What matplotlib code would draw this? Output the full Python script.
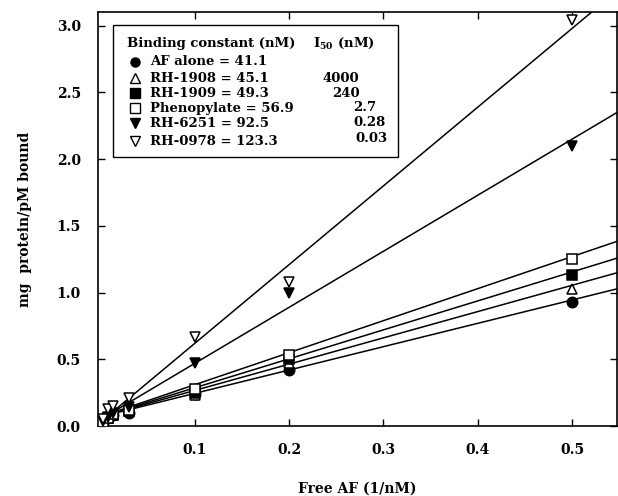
import matplotlib
matplotlib.use("Agg")
import matplotlib.pyplot as plt
from matplotlib.patches import Rectangle

plt.rcParams['font.family'] = 'DejaVu Serif'
plt.rcParams['font.weight'] = 'bold'
plt.rcParams['mathtext.fontset'] = 'custom'
plt.rcParams['mathtext.rm'] = 'DejaVu Serif:bold'
plt.rcParams['mathtext.it'] = 'DejaVu Serif:bold'
plt.rcParams['mathtext.bf'] = 'DejaVu Serif:bold'

# free AF (1/nM)
free_af = [0.003, 0.008, 0.013, 0.03, 0.1, 0.2, 0.5]

names = ["AF alone = 41.1", "RH-1908 = 45.1", "RH-1909 = 49.3",
         "Phenopylate = 56.9", "RH-6251 = 92.5", "RH-0978 = 123.3"]
i50 = ["", "4000", "240", "2.7", "0.28", "0.03"]

# mg protein / pM bound
af_alone = [0.03, 0.06, 0.08, 0.10, 0.24, 0.42, 0.93]
rh1908 = [0.03, 0.06, 0.08, 0.11, 0.23, 0.47, 1.03]
rh1909 = [0.03, 0.06, 0.08, 0.11, 0.25, 0.50, 1.13]
phenopylate = [0.03, 0.06, 0.09, 0.12, 0.28, 0.53, 1.25]
rh6251 = [0.04, 0.07, 0.10, 0.14, 0.47, 1.00, 2.10]
rh0978 = [0.05, 0.13, 0.15, 0.21, 0.67, 1.08, 3.04]

# fitted lines: intercept, slope
intercepts = [0.07, 0.07, 0.07, 0.07, 0.05, 0.03]
slopes = [1.75, 1.97, 2.17, 2.40, 4.20, 5.90]

series = [af_alone, rh1908, rh1909, phenopylate, rh6251, rh0978]
markers = ['o', '^', 's', 's', 'v', 'v']
filled = [True, False, True, False, True, False]

fig = plt.figure(figsize=(6.18, 4.96), dpi=100)
ax = fig.add_axes([0.158, 0.141, 0.841, 0.834])

line_x = [0.0, 0.6]
for k in range(len(series)):
    ax.plot(line_x, [intercepts[k] + slopes[k] * x for x in line_x],
            color='black', lw=1.1, zorder=2)
    fc = 'black' if filled[k] else 'white'
    ax.plot(free_af, series[k], ls='none', marker=markers[k], ms=7.5,
            mfc=fc, mec='black', mew=1.1, zorder=3)

ax.set_xlim(-0.003, 0.548)
ax.set_ylim(0, 3.1)
ax.set_xticks([0.1, 0.2, 0.3, 0.4, 0.5])
ax.set_yticks([0.0, 0.5, 1.0, 1.5, 2.0, 2.5, 3.0])
ax.set_xticklabels(['0.1', '0.2', '0.3', '0.4', '0.5'])
ax.set_yticklabels(['0.0', '0.5', '1.0', '1.5', '2.0', '2.5', '3.0'])
ax.tick_params(direction='in', top=True, right=True, length=5, width=1,
               labelsize=10)
ax.tick_params(axis='x', pad=12)
ax.tick_params(axis='y', pad=12)
for s in ax.spines.values():
    s.set_linewidth(1.2)

ax.set_xlabel("Free AF (1/nM)", fontsize=10, fontweight='bold', labelpad=18)
ax.set_ylabel("mg  protein/pM bound", fontsize=10, fontweight='bold',
              labelpad=18)

# legend box drawn by hand (two columns)
ax.add_patch(Rectangle((0.030, 0.650), 0.548, 0.320, transform=ax.transAxes,
                       fill=True, fc='white', ec='black', lw=1.0, zorder=5))
ax.text(0.056, 0.9255, "Binding constant (nM)", transform=ax.transAxes,
        fontsize=9.5, va='center', ha='left', zorder=6)
ax.text(0.415, 0.9255, r"I$_{50}$ (nM)", transform=ax.transAxes,
        fontsize=9.5, va='center', ha='left', zorder=6)
row_y = [0.881, 0.841, 0.805, 0.768, 0.732, 0.688]
i50_x = [0.43, 0.432, 0.451, 0.492, 0.492, 0.496]
i50_y = [0.881, 0.841, 0.805, 0.770, 0.734, 0.696]
for k in range(len(names)):
    fc = 'black' if filled[k] else 'white'
    ax.plot([0.072], [row_y[k]], transform=ax.transAxes, marker=markers[k],
            ms=6.5, mfc=fc, mec='black', mew=1.0, ls='none', zorder=6,
            clip_on=False)
    ax.text(0.101, row_y[k], names[k], transform=ax.transAxes, fontsize=9.5,
            va='center', ha='left', zorder=6)
    if i50[k]:
        ax.text(i50_x[k], i50_y[k], i50[k], transform=ax.transAxes,
                fontsize=9.5, va='center', ha='left', zorder=6)

fig.savefig("out.png", dpi=100)
